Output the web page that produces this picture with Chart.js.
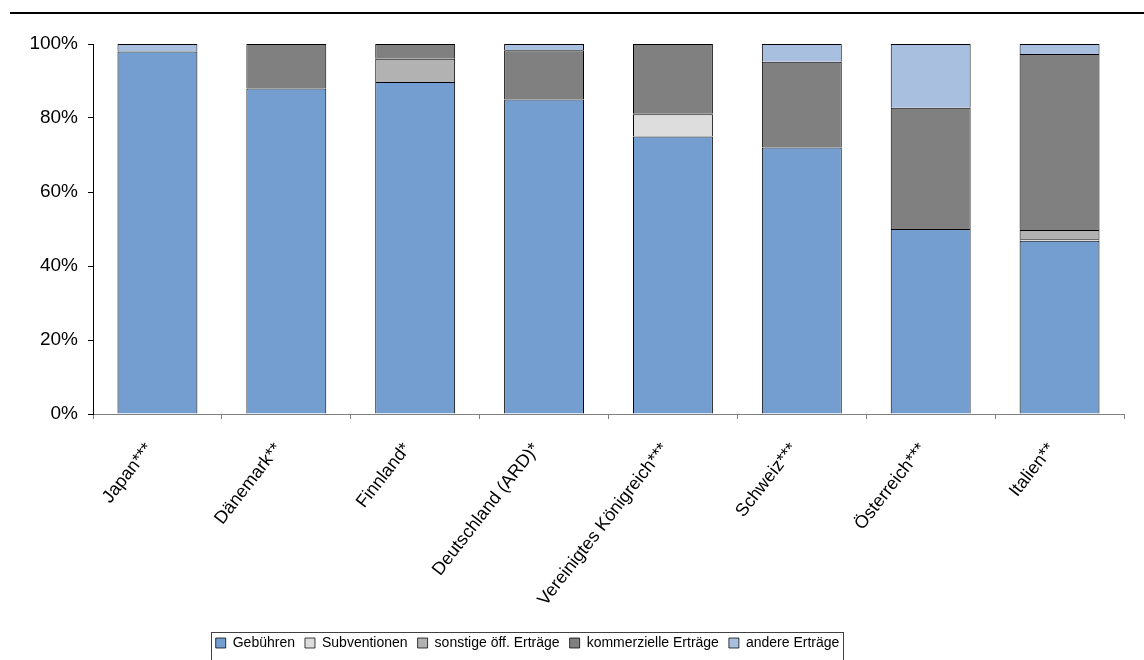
<!DOCTYPE html>
<html>
<head>
<meta charset="utf-8">
<script src="https://cdn.jsdelivr.net/npm/chart.js@4.4.1/dist/chart.umd.min.js"></script>
<style>
  html, body { margin: 0; padding: 0; background: #fff; }
  #wrap { position: relative; width: 1144px; height: 660px; overflow: hidden; }
  #topline { position: absolute; left: 10px; top: 12px; width: 1134px; height: 2px; background: #000; }
  #c { position: absolute; left: 0; top: 0; }
</style>
</head>
<body>
<div id="wrap">
  <div id="topline"></div>
  <canvas id="c" width="1144" height="660"></canvas>
</div>
<script>
// Kategorien und Anteile in %
const categories = ['Japan***', 'Dänemark**', 'Finnland*', 'Deutschland (ARD)*', 'Vereinigtes Königreich***', 'Schweiz***', 'Österreich***', 'Italien**']
const gebuehren = [98, 88, 89.7, 85, 75, 72, 50, 46.8]
const subventionen = [null, null, null, null, 6, null, null, 0.4]
const sonstige = [null, null, 6.3, null, 0.3, null, null, 2.5]
const kommerziell = [null, 12, 4, 13.3, 18.7, 23.2, 32.8, 47.6]
const andere = [2, null, null, 1.7, null, 4.8, 17.2, 2.7]
const yTicks = [0, 20, 40, 60, 80, 100]

Chart.defaults.font.family = "'Liberation Sans', Arial, sans-serif"
Chart.defaults.font.size = 15
Chart.defaults.color = '#000'

var ds = (label, data, color) => ({
    label: label,
    data: data,
    backgroundColor: color,
    borderColor: '#000',
    borderWidth: {top: 1, left: 1, right: 1, bottom: 0},
    borderSkipped: false,
    barPercentage: 0.62,
    categoryPercentage: 1.0
})

// Rahmen um die Legende, Legende etwas links von der Mitte
var legendFrame = {
    id: 'legendFrame',
    afterLayout: (chart) => {
        var lg = chart.legend
        lg.left = 0
        lg.right = 1055
        lg.width = 1055
    },
    afterDraw: (chart) => {
        var boxes = chart.legend.legendHitBoxes
        if (!boxes || !boxes.length) return
        var l = Math.min(...boxes.map(b => b.left))
        var r = Math.max(...boxes.map(b => b.left + b.width))
        var t = boxes[0].top
        var ctx = chart.ctx
        ctx.save()
        ctx.strokeStyle = '#404040'
        ctx.lineWidth = 1
        ctx.strokeRect(Math.round(l - 5) + 0.5, Math.round(t - 4) + 0.5, Math.round(r - l + 8), 60)
        ctx.restore()
    }
}

var chart = new Chart(document.getElementById('c'), {
    type: 'bar',
    data: {
        labels: categories,
        datasets: [
            ds('Gebühren', gebuehren, '#739ECF'),
            ds('Subventionen', subventionen, '#DDDDDD'),
            ds('sonstige öff. Erträge', sonstige, '#B2B2B2'),
            ds('kommerzielle Erträge', kommerziell, '#808080'),
            ds('andere Erträge', andere, '#A9BFE0')
        ]
    },
    options: {
        responsive: false,
        animation: false,
        layout: {padding: {left: 0, right: 20, top: 44, bottom: 0}},
        plugins: {
            legend: {
                position: 'bottom',
                labels: {color: '#000', font: {size: 14}, boxWidth: 10, boxHeight: 10, padding: 10}
            },
            tooltip: {enabled: false}
        },
        scales: {
            x: {
                stacked: true,
                offset: true,
                grid: {drawOnChartArea: false, drawTicks: true, tickLength: 5, color: '#808080', offset: true},
                border: {display: true, color: '#808080', width: 1},
                ticks: {color: '#000', font: {size: 18}, minRotation: 52, maxRotation: 52, autoSkip: false, padding: 20, labelOffset: -8},
                afterFit: (s) => { s.height = 212 }
            },
            y: {
                stacked: true,
                min: 0,
                max: 100,
                grid: {drawOnChartArea: false, tickLength: 5, color: '#000'},
                border: {display: true, color: '#000', width: 1},
                ticks: {color: '#000', font: {size: 19}, padding: 10, callback: (v) => v + '%'},
                afterBuildTicks: (s) => { s.ticks = yTicks.map(v => ({value: v})) },
                afterFit: (s) => { s.width = 93 }
            }
        }
    },
    plugins: [legendFrame]
})
</script>
</body>
</html>
